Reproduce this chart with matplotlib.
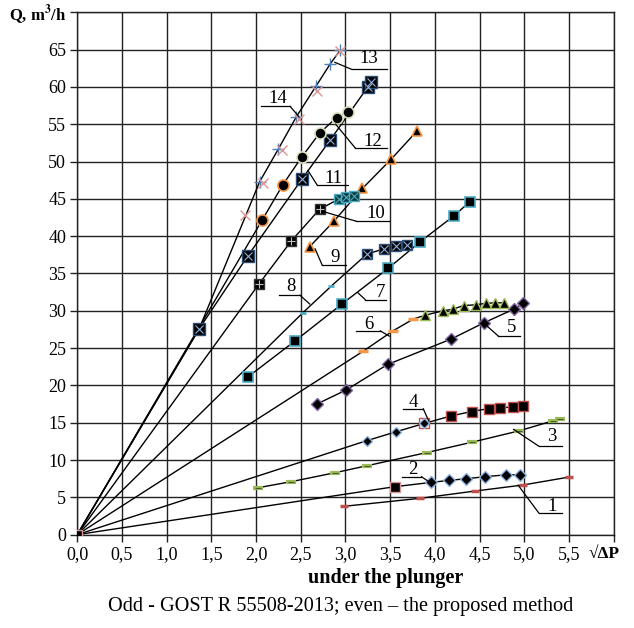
import numpy as np
import matplotlib
matplotlib.use("Agg")
import matplotlib.pyplot as plt

plt.rcParams['font.family'] = ['Liberation Serif', 'DejaVu Serif']
plt.rcParams['mathtext.fontset'] = 'stix'

# series data (x = sqrt(dP), y = Q m3/h)
x1 = [2.98, 3.83, 4.45, 4.98, 5.50]
y1 = [3.79, 4.86, 5.84, 6.64, 7.71]
x2 = [3.55, 3.96, 4.16, 4.35, 4.56, 4.80, 4.95]
y2 = [6.42, 7.00, 7.27, 7.49, 7.76, 8.02, 8.02]
x3 = [2.02, 2.39, 2.88, 3.24, 3.91, 4.42, 4.94, 5.32, 5.40]
y3 = [6.28, 7.09, 8.29, 9.23, 11.0, 12.4, 13.9, 15.25, 15.44]
x4 = [3.24, 3.57, 3.88, 4.18, 4.41, 4.61, 4.73, 4.87, 4.98]
y4 = [12.6, 13.8, 14.9, 15.9, 16.5, 16.9, 17.0, 17.1, 17.2]
x5 = [2.68, 3.01, 3.47, 4.18, 4.55, 4.88, 4.99]
y5 = [17.5, 19.4, 22.8, 26.2, 28.4, 30.2, 31.0]
x6 = [3.20, 3.53, 3.76, 3.89, 4.09, 4.20, 4.32, 4.46, 4.57, 4.67, 4.77]
y6 = [24.6, 27.3, 28.9, 29.4, 30.0, 30.2, 30.7, 30.8, 31.0, 31.06, 31.06]
x7 = [1.91, 2.44, 2.96, 3.48, 3.83, 4.21, 4.39]
y7 = [21.15, 26.0, 30.9, 35.7, 39.2, 42.7, 44.6]
x8 = [2.52, 2.84, 3.24, 3.43, 3.56, 3.69]
y8 = [29.7, 33.3, 37.6, 38.3, 38.7, 38.8]
x9 = [2.60, 2.87, 3.19, 3.51, 3.80]
y9 = [38.6, 42.0, 46.4, 50.3, 54.1]
x10 = [2.03, 2.39, 2.71, 2.93, 3.01, 3.09]
y10 = [33.55, 39.3, 43.6, 45.0, 45.25, 45.35]
x11 = [1.364, 1.91, 2.51, 2.83, 3.25, 3.29]
y11 = [27.6, 37.4, 47.6, 52.9, 60.0, 60.7]
x12 = [2.07, 2.30, 2.51, 2.71, 2.90, 3.03]
y12 = [42.2, 46.9, 50.6, 53.8, 55.9, 56.6]
x13 = [1.88, 2.08, 2.29, 2.48, 2.68, 2.94]
y13 = [42.9, 47.1, 51.6, 55.75, 59.4, 64.8]
x14 = [1.364, 2.04, 2.25, 2.45, 2.67, 2.83, 2.94]
y14 = [27.6, 47.3, 51.7, 56.0, 60.1, 63.1, 64.9]

x_ticks = [0.0, 0.5, 1.0, 1.5, 2.0, 2.5, 3.0, 3.5, 4.0, 4.5, 5.0, 5.5, 6.0]
x_labels = ['0,0', '0,5', '1,0', '1,5', '2,0', '2,5', '3,0', '3,5', '4,0', '4,5', '5,0', '5,5', '']
y_ticks = list(range(0, 75, 5))
y_labels = [str(v) for v in range(0, 70, 5)] + ['']

# curve number labels: text pos, underline (x0, x1, y), leader (from, to)
labels = [
    ('1', 5.31, 3.83, 5.16, 5.42, 2.93, (5.16, 2.93), (4.93, 6.64)),
    ('2', 3.75, 8.74, 3.63, 3.85, 7.76, (3.85, 7.76), (3.96, 6.87)),
    ('3', 5.31, 13.1, 5.16, 5.42, 11.87, (5.16, 11.87), (4.88, 14.1)),
    ('4', 3.76, 17.7, 3.64, 3.87, 16.86, (3.87, 16.86), (3.93, 15.25)),
    ('5', 4.86, 27.76, 4.71, 4.95, 26.6, (4.71, 26.6), (4.56, 28.2)),
    ('6', 3.26, 28.1, 3.12, 3.39, 27.3, (3.39, 27.3), (3.49, 26.6)),
    ('7', 3.39, 32.4, 3.22, 3.45, 31.5, (3.22, 31.5), (3.14, 32.4)),
    ('8', 2.39, 33.2, 2.26, 2.49, 32.1, (2.49, 32.1), (2.60, 30.9)),
    ('9', 2.88, 37.1, 2.74, 3.01, 36.1, (2.74, 36.1), (2.66, 38.3)),
    ('10', 3.34, 43.0, 3.12, 3.49, 42.0, (3.12, 42.0), (2.75, 43.3)),
    ('11', 2.87, 47.7, 2.68, 3.03, 46.9, (2.68, 46.9), (2.58, 48.8)),
    ('12', 3.30, 52.75, 3.11, 3.46, 51.8, (3.11, 51.8), (2.89, 55.0)),
    ('13', 3.26, 63.8, 3.07, 3.46, 62.35, (3.07, 62.35), (2.88, 63.3)),
    ('14', 2.24, 58.5, 2.06, 2.38, 57.4, (2.38, 57.4), (2.48, 56.0)),
]

RED = '#c0504d'
PINK = '#d99694'
BLUE = '#4f81bd'
DBLUE = '#2c4d75'
LBLUE = '#8db3e2'
GREEN = '#9bbb59'
PGREEN = '#d7e4bd'
ORANGE = '#f79646'
CYAN = '#4bacc6'
PURPLE = '#8064a2'

fig = plt.figure(figsize=(6.34, 6.28), dpi=100)
ax = fig.add_axes([0.1219, 0.1487, 0.968 - 0.1219, 0.9804 - 0.1487])


def line(x, y, origin=False):
    xs = ([0.0] if origin else []) + list(x)
    ys = ([0.0] if origin else []) + list(y)
    ax.plot(xs, ys, color='black', lw=1.0, zorder=3)


def mark(x, y, m, face, edge, ms=6.0, mew=1.0, z=4):
    ax.plot(x, y, ls='none', marker=m, mfc=face, mec=edge, ms=ms, mew=mew, zorder=z)


def crossed(x, y, cross, ms=6.5, inner='x', face='black', edge=DBLUE):
    mark(x, y, 's', face, edge, ms=ms, mew=1.0)
    mark(x, y, inner, cross, cross, ms=ms - 2.0, mew=0.8, z=5)


# lines
line(x1, y1)
line(x2, y2, origin=True)
line(x3, y3)
line(x4, y4, origin=True)
line(x5, y5)
line(x6, y6, origin=True)
line(x7, y7)
line(x8, y8, origin=True)
line(x9, y9)
line(x10, y10, origin=True)
line(x11, y11, origin=True)
line(x12, y12, origin=True)
line(x14, y14, origin=True)

# markers
mark(x1, y1, '_', RED, RED, ms=6, mew=2.5)
mark(x2[:1], y2[:1], 's', 'black', PINK, ms=7)
mark(x2[1:], y2[1:], 'D', 'black', LBLUE, ms=6)
mark(x3, y3, '_', GREEN, GREEN, ms=6.5, mew=3)
mark(x3, y3, '_', '#4a5a2a', '#4a5a2a', ms=5, mew=0.8, z=5)
mark(x4[2:3], y4[2:3], 's', 'white', RED, ms=7.5)
mark(x4[:3], y4[:3], 'D', 'black', LBLUE, ms=5.5, z=5)
mark(x4[3:], y4[3:], 's', 'black', RED, ms=7.5)
mark(x5, y5, 'D', 'black', PURPLE, ms=6)
mark(x6[:3], y6[:3], '_', ORANGE, ORANGE, ms=6.5, mew=2.5)
mark(x6[3:], y6[3:], '^', 'black', GREEN, ms=7)
mark(x7, y7, 's', 'black', CYAN, ms=7.5, mew=1.2)
mark(x8[:2], y8[:2], '_', CYAN, CYAN, ms=4, mew=2)
crossed(x8[2:], y8[2:], LBLUE, ms=7.5)
mark(x9, y9, '^', 'black', ORANGE, ms=7.5, mew=1.2)
crossed(x10[:3], y10[:3], '#c0c0c0', ms=7.5, inner='+', edge='#333333')
crossed(x10[3:], y10[3:], CYAN, ms=7.5, face='#0b3b3b', edge=CYAN)
mark(x14, y14, '+', BLUE, BLUE, ms=8.5, mew=1.0)
mark(x13, y13, 'x', PINK, PINK, ms=7.5, mew=1.0)
crossed(x11, y11, LBLUE, ms=8)
mark(x12[:2], y12[:2], 'o', 'black', ORANGE, ms=8, mew=1.2)
mark(x12[2:], y12[2:], 'o', 'black', PGREEN, ms=8, mew=1.2)
mark([0.0], [0.0], 's', 'black', PINK, ms=7.5, z=6)

for txt, tx, ty, ux0, ux1, uy, p0, p1 in labels:
    ax.text(tx, ty, txt, ha='center', va='center', fontsize=13.5, zorder=6)
    ax.plot([ux0, ux1], [uy, uy], color='black', lw=0.9, zorder=6)
    ax.plot([p0[0], p1[0]], [p0[1], p1[1]], color='black', lw=0.9, zorder=6)

ax.set_xlim(0, 6)
ax.set_ylim(0, 70)
ax.set_xticks(x_ticks)
ax.set_xticklabels(x_labels)
ax.set_yticks(y_ticks)
ax.set_yticklabels(y_labels)
ax.grid(True, color='#222222', lw=1.0, zorder=0)
ax.set_axisbelow(True)
ax.tick_params(direction='out', length=5, width=1.0, color='#222222',
               labelsize=13, pad=3)
for sp in ax.spines.values():
    sp.set_color('#222222')
    sp.set_linewidth(1.0)

fig.text(67 / 634, 1 - 15 / 628, r'Q, m$^\mathbf{3}$/h', ha='right', va='center',
         fontsize=12, fontweight='bold')
fig.text(604 / 634, 1 - 554 / 628, '√ΔP', ha='center', va='center',
         fontsize=12.5, fontweight='bold')
fig.text(386 / 634, 1 - 578 / 628, 'under the plunger', ha='center', va='center',
         fontsize=14.5, fontweight='bold')
fig.text(341 / 634, 1 - 606 / 628, 'Odd - GOST R 55508-2013; even \u2013 the proposed method',
         ha='center', va='center', fontsize=14.6)

fig.savefig('out.png', dpi=100)
